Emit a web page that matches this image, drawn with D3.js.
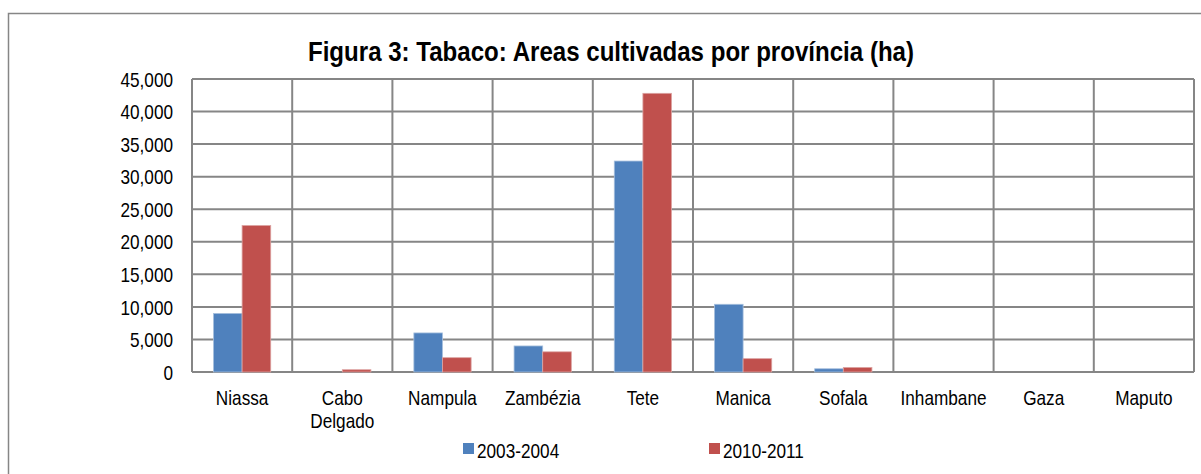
<!DOCTYPE html>
<html>
<head>
<meta charset="utf-8">
<script src="https://cdn.jsdelivr.net/npm/d3@7"></script>
<style>
  body { margin: 0; background: #fff; }
  svg text { font-family: "Liberation Sans", Arial, sans-serif; fill: #000; }
</style>
</head>
<body>
<svg width="1201" height="474"></svg>
<script>
const provinces = ['Niassa', 'Cabo Delgado', 'Nampula', 'Zambézia', 'Tete', 'Manica', 'Sofala', 'Inhambane', 'Gaza', 'Maputo'];
const seriesNames = ['2003-2004', '2010-2011'];
const area2003 = [9000, 0, 6000, 4000, 32400, 10400, 500, 0, 0, 0];
const area2010 = [22500, 350, 2200, 3100, 42800, 2050, 700, 0, 0, 0];
const yTicks = [0, 5000, 10000, 15000, 20000, 25000, 30000, 35000, 40000, 45000];
const colors = ['#4F81BD', '#C0504D'];

// no narrow font installed, so squeeze text horizontally around its anchor
const narrow = 0.86;
function squeeze(sel, ax) {
  sel.attr('transform', 'translate(' + ax + ',0) scale(' + narrow + ',1) translate(' + (-ax) + ',0)');
}

const svg = d3.select('svg'),
      margin = {top: 79, right: 7, bottom: 102, left: 192},
      width = +svg.attr('width') - margin.left - margin.right,
      height = +svg.attr('height') - margin.top - margin.bottom;

// outer frame of the chart
svg.append('rect')
    .attr('x', 8.5).attr('y', 13.5)
    .attr('width', 1300).attr('height', 480)
    .attr('fill', 'none')
    .attr('stroke', '#868686')
    .attr('stroke-width', 1.5);

svg.append('text')
    .attr('x', 611).attr('y', 61)
    .attr('text-anchor', 'middle')
    .style('font-size', '28px')
    .style('font-weight', 'bold')
    .text('Figura 3: Tabaco: Areas cultivadas por província (ha)')
    .call(squeeze, 611);

const g = svg.append('g').attr('transform', 'translate(' + margin.left + ',' + margin.top + ')');

const x = d3.scaleBand().domain(provinces).range([0, width]).paddingInner(0).paddingOuter(0);
const x1 = d3.scaleBand().domain(seriesNames).range([0, x.bandwidth()]).paddingInner(0).paddingOuter(0.75);
const y = d3.scaleLinear().domain([0, 45000]).range([height, 0]);

// horizontal grid
g.append('g')
    .selectAll('line')
    .data(yTicks)
    .join('line')
    .attr('x1', 0).attr('x2', width)
    .attr('y1', d => y(d)).attr('y2', d => y(d))
    .attr('stroke', '#868686')
    .attr('stroke-width', 2);

// vertical grid at category boundaries
g.append('g')
    .selectAll('line')
    .data(d3.range(provinces.length + 1))
    .join('line')
    .attr('x1', i => i * x.step()).attr('x2', i => i * x.step())
    .attr('y1', 0).attr('y2', height)
    .attr('stroke', '#868686')
    .attr('stroke-width', 2);

// bars
const rows = provinces.map((p, i) => ({p: p, vals: [area2003[i], area2010[i]]}));
g.append('g')
    .selectAll('g')
    .data(rows)
    .join('g')
    .attr('transform', d => 'translate(' + x(d.p) + ',0)')
    .selectAll('rect')
    .data(d => d.vals.map((v, k) => ({k: k, v: v})).filter(d => d.v > 0))
    .join('rect')
    .attr('x', d => x1(seriesNames[d.k]))
    .attr('width', x1.bandwidth())
    .attr('y', d => y(d.v))
    .attr('height', d => height - y(d.v))
    .attr('fill', d => colors[d.k])
    .attr('stroke', d => d.k === 0 ? '#a7c0de' : '#dca3a2')
    .attr('stroke-width', 0.8);

// y axis labels
const yAxis = g.append('g')
    .call(d3.axisLeft(y).tickValues(yTicks).tickSize(0).tickPadding(19).tickFormat(d3.format(',')));
yAxis.select('.domain').remove();
yAxis.selectAll('text')
    .style('font-size', '20px')
    .style('font-family', null)
    .attr('dy', '0.36em')
    .call(squeeze, -19);

// x axis labels
const xAxis = g.append('g')
    .attr('transform', 'translate(0,' + height + ')')
    .call(d3.axisBottom(x).tickSize(0).tickPadding(0).tickFormat(''));
xAxis.select('.domain').remove();
xAxis.selectAll('.tick').each(function(d) {
  const words = d.split(' ');
  const t = d3.select(this).append('text')
      .attr('text-anchor', 'middle')
      .style('font-size', '20px')
      .call(squeeze, 0);
  words.forEach((w, i) => {
    t.append('tspan').attr('x', 0).attr('y', 33 + i * 23).text(w);
  });
});

// legend
const legend = svg.append('g');
const legendX = [463, 709];
seriesNames.forEach((s, i) => {
  legend.append('rect')
      .attr('x', legendX[i]).attr('y', 443)
      .attr('width', 11).attr('height', 11)
      .attr('fill', colors[i]);
  legend.append('text')
      .attr('x', legendX[i] + 14).attr('y', 458)
      .style('font-size', '20px')
      .text(s)
      .call(squeeze, legendX[i] + 14);
});
</script>
</body>
</html>
